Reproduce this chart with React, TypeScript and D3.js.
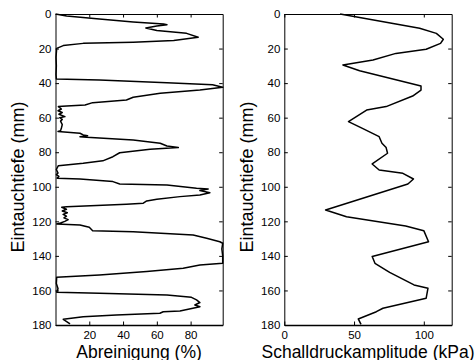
import React, { useRef, useEffect } from 'react';
import * as d3 from 'd3';

// Abreinigung (%) over Eintauchtiefe (mm)
const cleanDepth = [
    0, 1.2, 2.9, 4.6, 5.8, 6.2, 7.0, 8.1, 9.6, 11.2, 13.5, 15.4, 16.4, 17, 18.3, 19.9,
    25, 30, 35, 37.6, 38.2, 39.8, 41, 42.4, 44, 45.9, 48.2, 49.8, 51.3, 52.7, 53.2, 53.6,
    55, 56, 57, 58, 59.4, 60, 61, 62, 64, 66, 67.5, 68, 69, 70, 70.5, 71, 71.4, 72.9,
    74.8, 76.4, 77.3, 78.3, 80.3, 82.6, 85, 86.4, 87.8, 90, 92, 93, 94, 95, 95.5, 97,
    98.4, 99, 100.9, 101.3, 102.2, 103.4, 104.7, 105.7, 107.2, 108.2, 109.5, 110.1, 111.5, 111.9,
    113, 114, 115, 116, 117, 118, 119, 120, 121, 121.5, 122.1, 123.4, 125.4, 126, 127.9,
    129.8, 131.8, 132.7, 136, 140, 144.3, 145.3, 147.2, 149.1, 151, 152.4, 156, 159, 161,
    161.6, 162.6, 164, 165.5, 167, 168.4, 169.4, 171.9, 172.3, 173.2, 174.2, 175.2, 176.7,
    178, 179.4,
];
const cleanValue = [
    0, 6.6, 26, 46, 64, 66, 60, 53.5, 60, 77.6, 84.5, 70, 46, 16.4, 4.6, 0.7,
    0.3, 0.5, 0.3, 0.5, 26, 66, 93, 99, 85.5, 62, 46, 42, 22, 17.5, 6.6, 1.7,
    3.5, 1.5, 4, 2, 5.6, 2.5, 4, 3, 4, 3.5, 3, 1.5, 14.5, 16.4, 19, 14.5, 18.5, 46,
    62, 66, 72.7, 56, 38, 34, 28, 16.4, 1.7, 0.5, 1.5, 0.5, 2, 1, 14.5, 34,
    38, 66, 83.5, 90.4, 85.5, 91.4, 85.5, 73.7, 60, 54, 52, 42, 6.6, 3.7,
    6.5, 4, 7, 4.5, 6.5, 5, 7.5, 5.5, 3, 0.7, 14.5, 20, 22, 46, 81.5,
    89.5, 97.3, 99, 98.5, 99, 99, 85.5, 75.6, 54, 26, 0.7, 0.5, 1.5, 0.7,
    26, 66, 80.5, 83.5, 85.5, 82.5, 85.5, 73.7, 63.8, 61.8, 36, 16.4, 4.6,
    6.6, 8.6,
];

// Schalldruckamplitude (kPa) over Eintauchtiefe (mm)
const pressDepth = [
    0, 5.8, 8.3, 11.2, 14.6, 17, 20.4, 22.8, 26.6, 29.5, 32.8, 41.7, 44, 47.5, 53.6, 55.6,
    62.3, 66.2, 71, 74.8, 77.3, 80.6, 86.8, 90.3, 92.2, 95.5, 98.4, 113.4, 117.3, 122.7,
    125.4, 131.8, 140.4, 144.3, 149.5, 156.8, 158.7, 164.5, 170.3, 172.3, 176.5, 179.6,
];
const pressValue = [
    40, 80, 97, 109, 114, 112, 101.7, 80, 63.6, 42, 54, 98, 98, 92, 73, 59,
    46, 56, 68, 70, 73, 74, 63, 68, 85, 92.6, 88.6, 29.6, 44.6, 87,
    100, 103.4, 63, 65, 75.5, 93, 103, 101.7, 70.7, 66, 53, 55,
];

const depthTicks = [0, 20, 40, 60, 80, 100, 120, 140, 160, 180];
const cleanTicks = [20, 40, 60, 80];
const pressTicks = [0, 50, 100];

const FONT = '"Liberation Sans", Arial, Helvetica, sans-serif';

interface PanelProps {
    depth: number[];
    values: number[];
    xMax: number;
    xTicks: number[];
    xLabel: string;
    left: number;
    right: number;
}

const Panel: React.FC<PanelProps> = ({ depth, values, xMax, xTicks, xLabel, left, right }) => {
    const gRef = useRef<SVGGElement | null>(null);

    useEffect(() => {
        if (!gRef.current) return;
        const g = d3.select(gRef.current);
        g.selectAll('*').remove();

        const top = 14;
        const bottom = 325;
        const tick = 3.5;

        const x = d3.scaleLinear().domain([0, xMax]).range([left, right]);
        const y = d3.scaleLinear().domain([0, 180]).range([top, bottom]);

        const line = d3.line<number>()
            .x((_, i) => x(values[i]))
            .y(d => y(d));

        g.append('path')
            .datum(depth)
            .attr('d', line)
            .attr('fill', 'none')
            .attr('stroke', '#000')
            .attr('stroke-width', 1.5)
            .attr('stroke-linejoin', 'round');

        const style = (sel: d3.Selection<SVGGElement, unknown, null, undefined>) => {
            sel.selectAll('text').attr('fill', '#000').style('font-size', '11.5px').style('font-family', FONT);
            sel.selectAll('line').attr('stroke', '#000');
            sel.select('.domain').attr('stroke', '#000');
        };

        g.append('g')
            .attr('transform', `translate(${left},0)`)
            .call(d3.axisLeft(y).tickValues(depthTicks).tickSizeInner(-tick).tickSizeOuter(0).tickPadding(4))
            .call(style);
        g.append('g')
            .attr('transform', `translate(${right},0)`)
            .call(d3.axisRight(y).tickValues(depthTicks).tickSizeInner(-tick).tickSizeOuter(0).tickFormat(() => ''))
            .call(style);
        g.append('g')
            .attr('transform', `translate(0,${bottom})`)
            .call(d3.axisBottom(x).tickValues(xTicks).tickSizeInner(-tick).tickSizeOuter(0).tickPadding(6))
            .call(style)
            .select('.domain').attr('stroke-width', 1.5);
        g.append('g')
            .attr('transform', `translate(0,${top})`)
            .call(d3.axisTop(x).tickValues(xTicks).tickSizeInner(-tick).tickSizeOuter(0).tickFormat(() => ''))
            .call(style);

        g.append('text')
            .attr('x', (left + right) / 2)
            .attr('y', 357.5)
            .attr('text-anchor', 'middle')
            .style('font-family', FONT)
            .style('font-size', '17.5px')
            .text(xLabel);

        g.append('text')
            .attr('transform', `translate(${left - 31.5},${177}) rotate(-90)`)
            .attr('text-anchor', 'middle')
            .style('font-family', FONT)
            .style('font-size', '18px')
            .text('Eintauchtiefe (mm)');
    }, [depth, values, xMax, xTicks, xLabel, left, right]);

    return <g ref={gRef} />;
};

export default function App() {
    return (
        <svg width={475} height={360} style={{ position: 'absolute', left: 0, top: 0, background: '#fff' }}>
            <Panel depth={cleanDepth} values={cleanValue} xMax={99} xTicks={cleanTicks}
                xLabel="Abreinigung (%)" left={55.5} right={222.7} />
            <Panel depth={pressDepth} values={pressValue} xMax={120} xTicks={pressTicks}
                xLabel="Schalldruckamplitude (kPa)" left={284.3} right={451.7} />
        </svg>
    );
}
